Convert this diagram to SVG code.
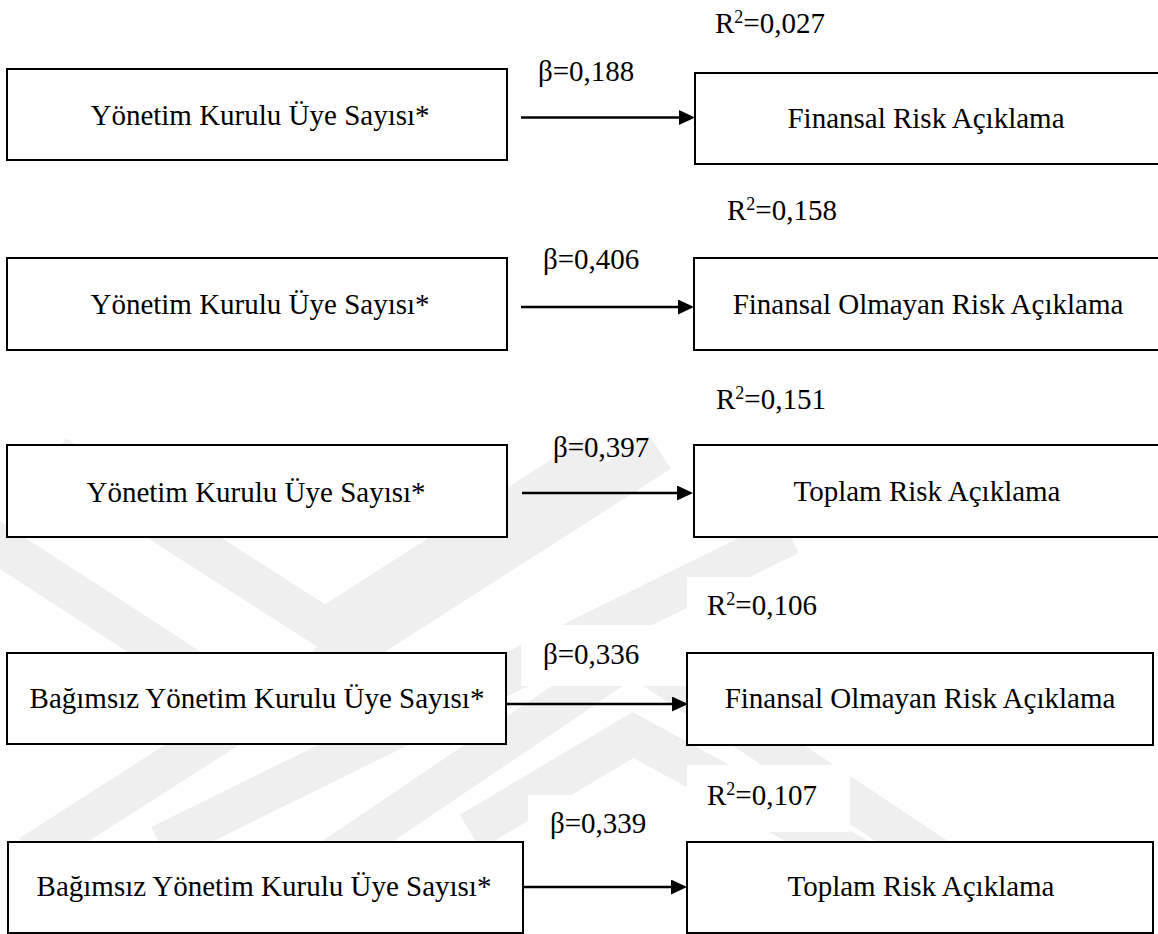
<svg xmlns="http://www.w3.org/2000/svg" width="1158" height="934" viewBox="0 0 1158 934">
  <defs>
    <style>
      .box { fill: #ffffff; stroke: #000000; stroke-width: 2; }
      .lbl { font-family: "Liberation Serif", "Times New Roman", serif; font-size: 29px; fill: #000000; }
      .mid { text-anchor: middle; }
      .sup { font-size: 18px; }
      .conn { stroke: #000000; stroke-width: 2.7; fill: none; }
      .wm { stroke: #efefef; stroke-width: 40; fill: none; stroke-linejoin: miter; }
      .mask { fill: #ffffff; }
    </style>
    <marker id="head" markerUnits="userSpaceOnUse" markerWidth="16" markerHeight="16" refX="0" refY="7.5" orient="auto">
      <path d="M0,0 L16,7.5 L0,15 Z" fill="#000000"/>
    </marker>
  </defs>

  <rect width="1158" height="934" fill="#ffffff"/>

  <!-- faint background emblem -->
  <g id="emblem">
    <path class="wm" d="M55 455 L325 628 L600 452"/>
    <path class="wm" d="M-60 506 L255 711"/>
    <path class="wm" d="M30 855 L660 452"/>
    <path class="wm" d="M160 845 L790 535"/>
    <path class="wm" d="M470 832 L633 735 L880 870"/>
    <path class="wm" d="M330 860 L633 655 L940 860"/>
  </g>

  <!-- text-box backgrounds of the coefficient labels -->
  <g id="label-backs">
    <rect class="mask" x="521" y="625" width="167" height="61"/>
    <rect class="mask" x="687" y="577" width="163" height="63"/>
    <rect class="mask" x="528" y="795" width="159" height="47"/>
    <rect class="mask" x="687" y="765" width="163" height="67"/>
  </g>

  <!-- connectors -->
  <g id="connectors">
    <line class="conn" x1="521" y1="117.5" x2="679" y2="117.5" marker-end="url(#head)"/>
    <line class="conn" x1="521" y1="307" x2="678" y2="307" marker-end="url(#head)"/>
    <line class="conn" x1="522" y1="493" x2="677" y2="493" marker-end="url(#head)"/>
    <line class="conn" x1="506" y1="704" x2="672" y2="704" marker-end="url(#head)"/>
    <line class="conn" x1="514" y1="887" x2="671" y2="887" marker-end="url(#head)"/>
  </g>

  <!-- row 1 -->
  <g id="n1-src">
    <rect class="box" x="7" y="69" width="500" height="91"/>
    <text class="lbl mid" x="260" y="125">Yönetim Kurulu Üye Sayısı*</text>
  </g>
  <g id="n1-dst">
    <rect class="box" x="695" y="73" width="480" height="91"/>
    <text class="lbl mid" x="926" y="128">Finansal Risk Açıklama</text>
  </g>
  <g id="e1-labels">
    <text class="lbl" x="538" y="81">β=0,188</text>
    <text class="lbl" x="715" y="33">R<tspan class="sup" dy="-10">2</tspan><tspan dy="10">=0,027</tspan></text>
  </g>

  <!-- row 2 -->
  <g id="n2-src">
    <rect class="box" x="7" y="258" width="500" height="92"/>
    <text class="lbl mid" x="260" y="314">Yönetim Kurulu Üye Sayısı*</text>
  </g>
  <g id="n2-dst">
    <rect class="box" x="694" y="258" width="480" height="92"/>
    <text class="lbl mid" x="928" y="314">Finansal Olmayan Risk Açıklama</text>
  </g>
  <g id="e2-labels">
    <text class="lbl" x="543" y="269">β=0,406</text>
    <text class="lbl" x="727" y="220">R<tspan class="sup" dy="-10">2</tspan><tspan dy="10">=0,158</tspan></text>
  </g>

  <!-- row 3 -->
  <g id="n3-src">
    <rect class="box" x="7" y="445" width="500" height="92"/>
    <text class="lbl mid" x="256" y="502">Yönetim Kurulu Üye Sayısı*</text>
  </g>
  <g id="n3-dst">
    <rect class="box" x="694" y="445" width="480" height="92"/>
    <text class="lbl mid" x="927" y="501">Toplam Risk Açıklama</text>
  </g>
  <g id="e3-labels">
    <text class="lbl" x="553" y="457">β=0,397</text>
    <text class="lbl" x="716" y="409">R<tspan class="sup" dy="-10">2</tspan><tspan dy="10">=0,151</tspan></text>
  </g>

  <!-- row 4 -->
  <g id="n4-src">
    <rect class="box" x="7" y="653" width="499" height="91"/>
    <text class="lbl mid" x="257" y="708">Bağımsız Yönetim Kurulu Üye Sayısı*</text>
  </g>
  <g id="n4-dst">
    <rect class="box" x="687" y="653" width="466" height="92"/>
    <text class="lbl mid" x="920" y="708">Finansal Olmayan Risk Açıklama</text>
  </g>
  <g id="e4-labels">
    <text class="lbl" x="543" y="664">β=0,336</text>
    <text class="lbl" x="707" y="615">R<tspan class="sup" dy="-10">2</tspan><tspan dy="10">=0,106</tspan></text>
  </g>

  <!-- row 5 -->
  <g id="n5-src">
    <rect class="box" x="8" y="842" width="515" height="91"/>
    <text class="lbl mid" x="264" y="896">Bağımsız Yönetim Kurulu Üye Sayısı*</text>
  </g>
  <g id="n5-dst">
    <rect class="box" x="687" y="842" width="466" height="91"/>
    <text class="lbl mid" x="921" y="896">Toplam Risk Açıklama</text>
  </g>
  <g id="e5-labels">
    <text class="lbl" x="550" y="833">β=0,339</text>
    <text class="lbl" x="707" y="805">R<tspan class="sup" dy="-10">2</tspan><tspan dy="10">=0,107</tspan></text>
  </g>
</svg>
